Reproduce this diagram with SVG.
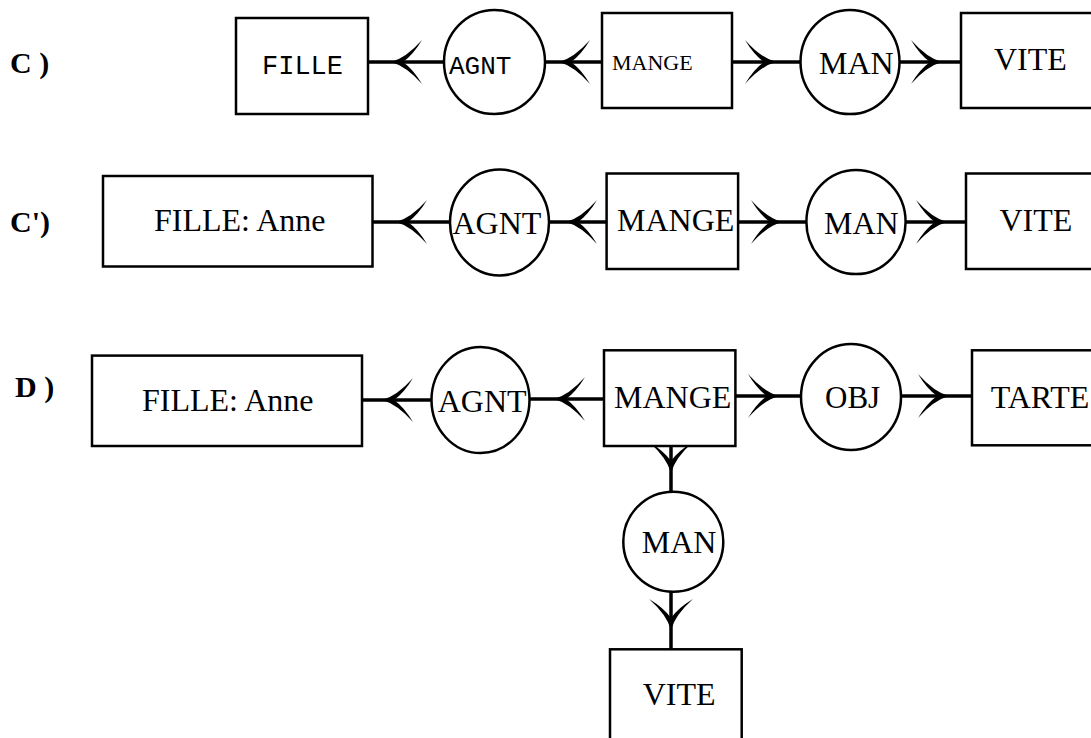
<svg xmlns="http://www.w3.org/2000/svg" xmlns:xlink="http://www.w3.org/1999/xlink" width="1091" height="738" viewBox="0 0 1091 738">
<style>
.box{fill:#fff;stroke:#000;stroke-width:2.5}
.rel{fill:#fff;stroke:#000;stroke-width:2.5}
.t{font-family:"Liberation Serif","Times New Roman",serif;font-size:32px;fill:#000}
.ts{font-family:"Liberation Serif","Times New Roman",serif;font-size:22px;fill:#000}
.m{font-family:"Liberation Mono","Courier New",monospace;font-size:26px;fill:#000}
.lbl{font-family:"Liberation Serif","Times New Roman",serif;font-size:30px;font-weight:bold;fill:#000}
.ln{stroke:#000;stroke-width:3.5;fill:none}
</style>
<defs>
<path id="ah" d="M0,0 Q-15,-4 -31,-22 Q-22,-7 -12,0 Q-22,7 -31,22 Q-15,4 0,0 Z" fill="#000"/>
</defs>
<rect width="1091" height="738" fill="#fff"/>

<g id="labels">
<text class="lbl" x="10" y="73">C )</text>
<text class="lbl" x="10" y="232">C')</text>
<text class="lbl" x="15" y="397">D )</text>
</g>

<g id="connectors">
<!-- row C -->
<line class="ln" x1="368" y1="62" x2="444" y2="62"/>
<use xlink:href="#ah" transform="translate(391,62) rotate(180)"/>
<line class="ln" x1="545" y1="62" x2="602" y2="62"/>
<use xlink:href="#ah" transform="translate(559,62) rotate(180)"/>
<line class="ln" x1="732" y1="62" x2="801" y2="62"/>
<use xlink:href="#ah" transform="translate(776,62)"/>
<line class="ln" x1="900" y1="62" x2="961" y2="62"/>
<use xlink:href="#ah" transform="translate(942,62)"/>
<!-- row C' -->
<line class="ln" x1="372" y1="222" x2="450" y2="222"/>
<use xlink:href="#ah" transform="translate(396,222) rotate(180)"/>
<line class="ln" x1="549" y1="222" x2="607" y2="222"/>
<use xlink:href="#ah" transform="translate(566,222) rotate(180)"/>
<line class="ln" x1="738" y1="222" x2="807" y2="222"/>
<use xlink:href="#ah" transform="translate(782,222)"/>
<line class="ln" x1="906" y1="222" x2="966" y2="222"/>
<use xlink:href="#ah" transform="translate(947,222)"/>
<!-- row D -->
<line class="ln" x1="362" y1="400" x2="431" y2="400"/>
<use xlink:href="#ah" transform="translate(382,400) rotate(180)"/>
<line class="ln" x1="530" y1="399" x2="604" y2="399"/>
<use xlink:href="#ah" transform="translate(554,399) rotate(180)"/>
<line class="ln" x1="735" y1="396" x2="801" y2="396"/>
<use xlink:href="#ah" transform="translate(779,396)"/>
<line class="ln" x1="901" y1="396" x2="972" y2="396"/>
<use xlink:href="#ah" transform="translate(949,396)"/>
<line class="ln" x1="671" y1="446" x2="671" y2="492"/>
<use xlink:href="#ah" transform="translate(671,473) rotate(90)"/>
<line class="ln" x1="671" y1="591" x2="671" y2="649"/>
<use xlink:href="#ah" transform="translate(671,630) rotate(90)"/>
</g>

<!-- row C nodes -->
<g id="c-fille"><rect class="box" x="236" y="18" width="132" height="96"/><text class="m" x="262" y="74" style="font-size:27px">FILLE</text></g>
<g id="c-agnt"><ellipse class="rel" cx="494.5" cy="62" rx="50.5" ry="52"/><text class="m" x="449" y="74">AGNT</text></g>
<g id="c-mange"><rect class="box" x="602" y="13" width="130" height="95"/><text class="ts" x="612" y="70">MANGE</text></g>
<g id="c-man"><ellipse class="rel" cx="850" cy="62" rx="49.5" ry="52"/><text class="t" x="819" y="74">MAN</text></g>
<g id="c-vite"><rect class="box" x="961" y="13" width="200" height="95"/><text class="t" x="994" y="70">VITE</text></g>

<!-- row C' nodes -->
<g id="cp-fille"><rect class="box" x="103" y="176" width="269.5" height="90.5"/><text class="t" x="154" y="231">FILLE: Anne</text></g>
<g id="cp-agnt"><ellipse class="rel" cx="499.5" cy="222.5" rx="49.5" ry="53"/><text class="t" x="452.5" y="233.5">AGNT</text></g>
<g id="cp-mange"><rect class="box" x="606.6" y="173.5" width="131.5" height="95.5"/><text class="t" x="617" y="231">MANGE</text></g>
<g id="cp-man"><ellipse class="rel" cx="856" cy="222" rx="49.6" ry="52"/><text class="t" x="824" y="234">MAN</text></g>
<g id="cp-vite"><rect class="box" x="966" y="173.5" width="200" height="95.5"/><text class="t" x="999.5" y="231">VITE</text></g>

<!-- row D nodes -->
<g id="d-fille"><rect class="box" x="92" y="355.6" width="270" height="90.4"/><text class="t" x="142" y="411">FILLE: Anne</text></g>
<g id="d-agnt"><ellipse class="rel" cx="480.5" cy="400" rx="49" ry="53"/><text class="t" x="437.7" y="411.7">AGNT</text></g>
<g id="d-mange"><rect class="box" x="604" y="350.3" width="131.4" height="95.7"/><text class="t" x="614" y="407.5">MANGE</text></g>
<g id="d-obj"><ellipse class="rel" cx="851" cy="397" rx="50" ry="53"/><text class="t" x="825" y="407.5" style="font-size:31px">OBJ</text></g>
<g id="d-tarte"><rect class="box" x="972" y="350.3" width="200" height="95"/><text class="t" x="990.7" y="407.5">TARTE</text></g>
<g id="d-man"><ellipse class="rel" cx="673.3" cy="541.7" rx="50" ry="50"/><text class="t" x="641.7" y="552.7">MAN</text></g>
<g id="d-vite"><rect class="box" x="610" y="649.3" width="131.7" height="120"/><text class="t" x="642.7" y="705">VITE</text></g>
</svg>
